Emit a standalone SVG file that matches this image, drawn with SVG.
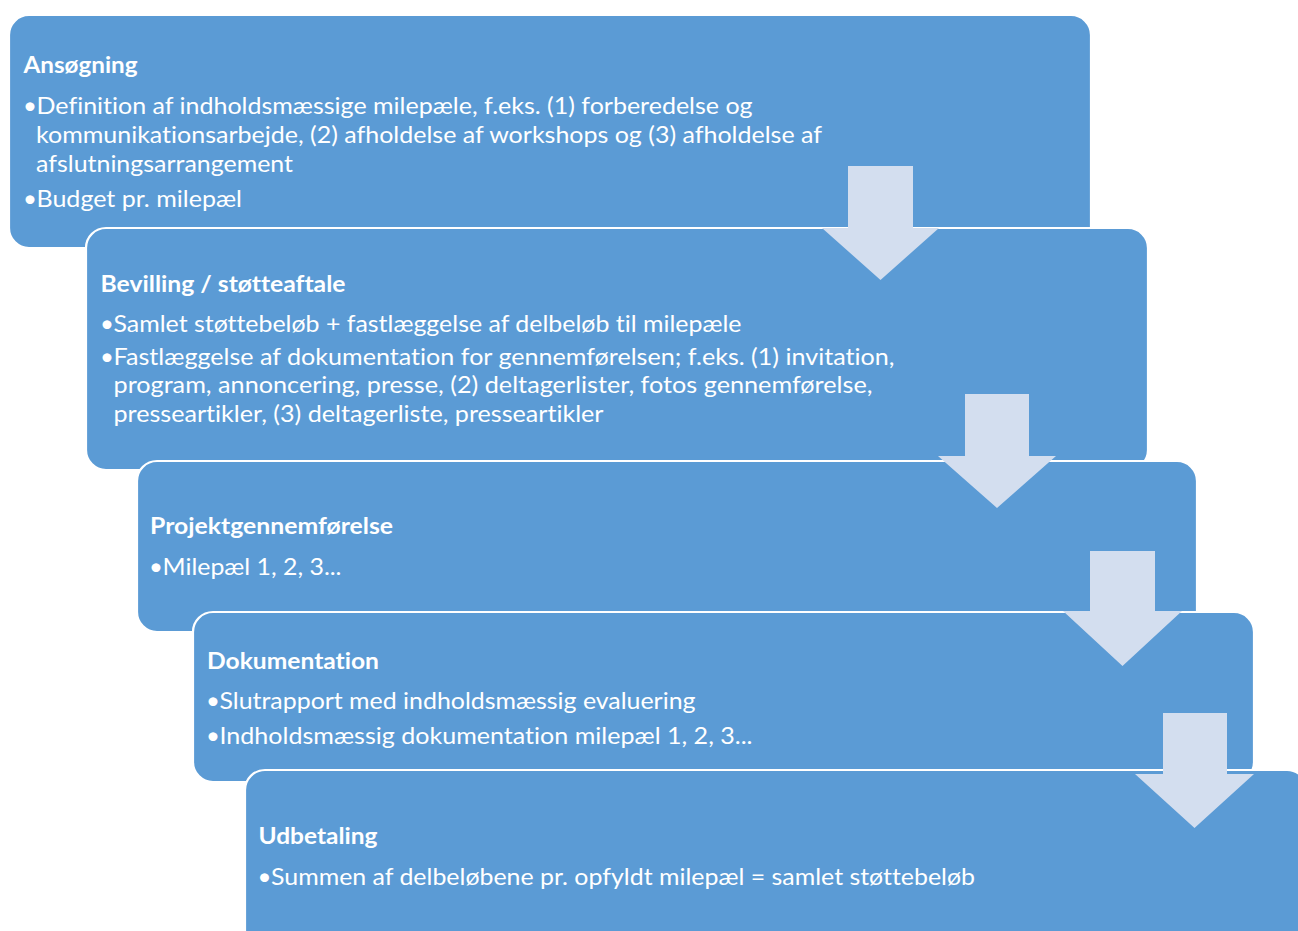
<svg xmlns="http://www.w3.org/2000/svg" width="1298" height="931" viewBox="0 0 1298 931">
<style>
.box{fill:#5B9BD5;stroke:#FFFFFF;stroke-width:2.2}
.arr{fill:#D3DEEF}
text{fill:#FFFFFF;font-family:Lato,"Liberation Sans",sans-serif;font-size:23px;font-variant-ligatures:none;font-feature-settings:"liga" 0,"clig" 0}
.t{font-weight:bold}
.bu{font-size:24px}
</style>
<rect width="1298" height="931" fill="#FFFFFF"/>
<g id="n1">
<rect class="box" x="9" y="15" width="1082" height="233" rx="20" ry="20"/>
<text class="t" x="23.5" y="73" textLength="114" lengthAdjust="spacingAndGlyphs">Ansøgning</text>
<text y="113.5"><tspan class="bu" x="23">•</tspan><tspan x="36.5" textLength="716" lengthAdjust="spacingAndGlyphs">Definition af indholdsmæssige milepæle, f.eks. (1) forberedelse og</tspan></text>
<text x="36" y="142.5" textLength="786" lengthAdjust="spacingAndGlyphs">kommunikationsarbejde, (2) afholdelse af workshops og (3) afholdelse af</text>
<text x="36" y="171.5" textLength="257" lengthAdjust="spacingAndGlyphs">afslutningsarrangement</text>
<text y="206.5"><tspan class="bu" x="23">•</tspan><tspan x="36.5" textLength="205.5" lengthAdjust="spacingAndGlyphs">Budget pr. milepæl</tspan></text>
</g>
<g id="n2">
<rect class="box" x="86" y="228" width="1062" height="242" rx="20" ry="20"/>
<text class="t" x="100.5" y="291.5" textLength="245" lengthAdjust="spacingAndGlyphs">Bevilling / støtteaftale</text>
<text y="331.5"><tspan class="bu" x="100">•</tspan><tspan x="113.5" textLength="628" lengthAdjust="spacingAndGlyphs">Samlet støttebeløb + fastlæggelse af delbeløb til milepæle</tspan></text>
<text y="364.5"><tspan class="bu" x="100">•</tspan><tspan x="113.5" textLength="781" lengthAdjust="spacingAndGlyphs">Fastlæggelse af dokumentation for gennemførelsen; f.eks. (1) invitation,</tspan></text>
<text x="113.5" y="393" textLength="759" lengthAdjust="spacingAndGlyphs">program, annoncering, presse, (2) deltagerlister, fotos gennemførelse,</text>
<text x="113.5" y="422" textLength="490" lengthAdjust="spacingAndGlyphs">presseartikler, (3) deltagerliste, presseartikler</text>
</g>
<g id="n3">
<rect class="box" x="137" y="461" width="1060" height="171" rx="20" ry="20"/>
<text class="t" x="150" y="533.5" textLength="243" lengthAdjust="spacingAndGlyphs">Projektgennemførelse</text>
<text y="575"><tspan class="bu" x="149">•</tspan><tspan x="162.5" textLength="179" lengthAdjust="spacingAndGlyphs">Milepæl 1, 2, 3...</tspan></text>
</g>
<g id="n4">
<rect class="box" x="193" y="612" width="1061" height="170" rx="20" ry="20"/>
<text class="t" x="207" y="668.5" textLength="172" lengthAdjust="spacingAndGlyphs">Dokumentation</text>
<text y="709"><tspan class="bu" x="206">•</tspan><tspan x="219.5" textLength="476" lengthAdjust="spacingAndGlyphs">Slutrapport med indholdsmæssig evaluering</tspan></text>
<text y="743.5"><tspan class="bu" x="206">•</tspan><tspan x="219.5" textLength="533" lengthAdjust="spacingAndGlyphs">Indholdsmæssig dokumentation milepæl 1, 2, 3...</tspan></text>
</g>
<g id="n5">
<rect class="box" x="245" y="770" width="1062" height="210" rx="20" ry="20"/>
<text class="t" x="258.5" y="843.5" textLength="119" lengthAdjust="spacingAndGlyphs">Udbetaling</text>
<text y="884.5"><tspan class="bu" x="257.5">•</tspan><tspan x="271" textLength="704" lengthAdjust="spacingAndGlyphs">Summen af delbeløbene pr. opfyldt milepæl = samlet støttebeløb</tspan></text>
</g>
<g id="connectors">
<polygon class="arr" points="848,166 913,166 913,228 939,228 880.5,280 822,228 848,228"/>
<polygon class="arr" points="965,394 1029,394 1029,456 1056,456 997,508 938,456 965,456"/>
<polygon class="arr" points="1090,551 1155,551 1155,611 1182,611 1122.5,666 1063,611 1090,611"/>
<polygon class="arr" points="1163,713 1227,713 1227,774 1254,774 1194.5,828 1135,774 1163,774"/>
</g>
</svg>
